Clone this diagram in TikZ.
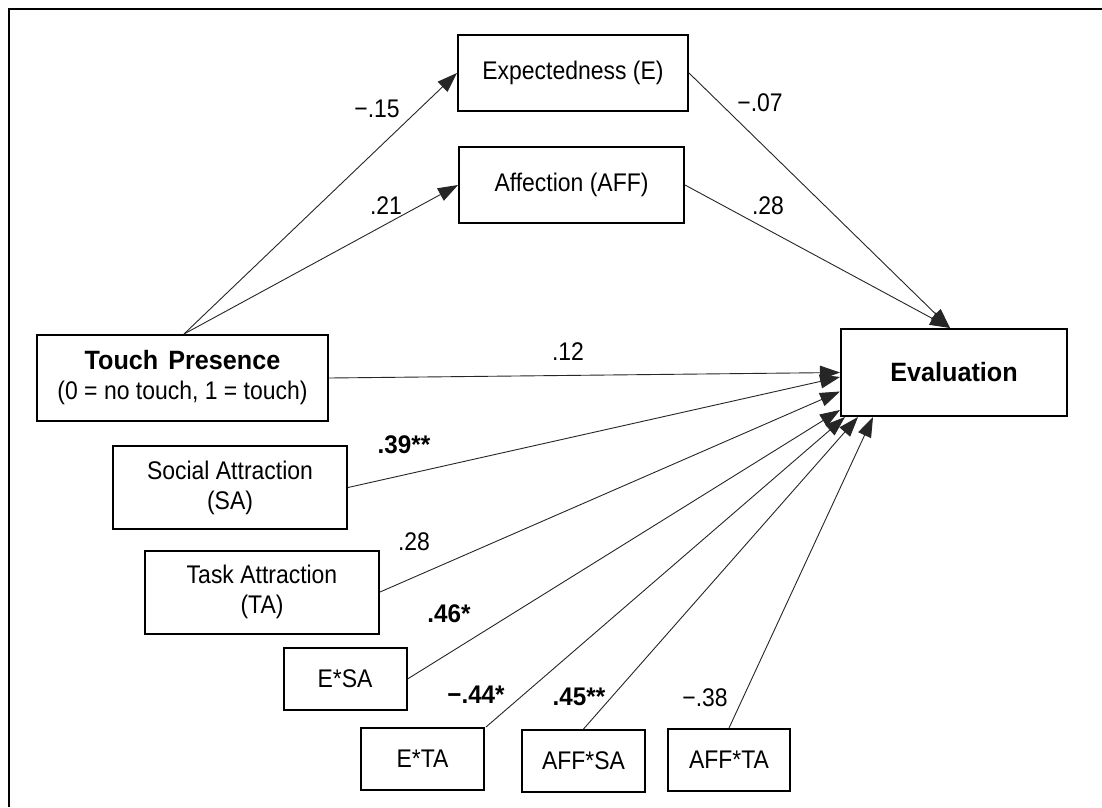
\documentclass[tikz,border=0pt]{standalone}
\usepackage{fontspec}
\setmainfont{Liberation Sans}
\newfontfamily\narrowsans[FakeStretch=0.9]{Liberation Sans}
\newfontfamily\narrowbold[FakeStretch=0.95]{Liberation Sans Bold}
\usetikzlibrary{arrows.meta,calc}

\begin{document}
\begin{tikzpicture}[x=1pt,y=-1pt,
  box/.style={draw, line width=2pt, inner sep=0pt, align=center,
    font=\narrowsans\fontsize{25.5}{30}\selectfont},
  link/.style={draw=black!85, line width=0.9pt,
    -{Triangle[length=20pt,width=14pt]}},
  lab/.style={inner sep=0pt, font=\narrowsans\fontsize{25.5}{28}\selectfont},
  blab/.style={inner sep=0pt, font=\narrowbold\fontsize{25.5}{28}\selectfont}]

\useasboundingbox (0,0) rectangle (1102,807);
\fill[white] (0,0) rectangle (1102,807);

% outer frame (top and left edges)
\draw[line width=2.6pt] (9,807) -- (9,9) -- (1102,9);

% variables
\node[box, minimum width=230, minimum height=76] (e)   at (573,73)    {Expectedness (E)};
\node[box, minimum width=225, minimum height=76] (aff) at (571.5,185) {Affection (AFF)};
\node[box, minimum width=291, minimum height=86] (tp)  at (182.5,378)
  {{\narrowbold\fontsize{26.5}{30}\selectfont Touch\hspace{10pt}Presence}\\(0 = no touch, 1 = touch)};
\node[box, minimum width=226, minimum height=87] (ev)  at (954,372.5)
  {\narrowbold\fontsize{26.5}{30}\selectfont Evaluation};
\node[box, minimum width=234, minimum height=83] (sa)  at (230,487.5) {Social Attraction\\(SA)};
\node[box, minimum width=234, minimum height=83] (ta)  at (262,592)   {Task Attraction\\(TA)};
\node[box, minimum width=123, minimum height=62] (esa)   at (345,679)   {E*SA};
\node[box, minimum width=123, minimum height=62] (eta)   at (422.5,759) {E*TA};
\node[box, minimum width=123, minimum height=62] (affsa) at (583.5,761) {AFF*SA};
\node[box, minimum width=122, minimum height=62] (affta) at (729,760)   {AFF*TA};

% connector end points
\coordinate (tpTop) at ($(tp.north)+(1.5,0)$);
\coordinate (evTop) at ($(ev.north)+(-4,0)$);
\coordinate (inSA)  at ($(ev.west)+(0,4.5)$);
\coordinate (inTA)  at ($(ev.west)+(0,19)$);
\coordinate (inESA) at ($(ev.south west)+(0,-7)$);
\coordinate (inETA) at ($(ev.south west)+(5,0)$);
\coordinate (inASA) at ($(ev.south west)+(18,0)$);
\coordinate (inATA) at ($(ev.south west)+(33,0)$);
\coordinate (outETA) at ($(eta.north east)+(1,0)$);

% paths
\draw[link] (tpTop) -- (e.west);
\draw[link] (tpTop) -- (aff.west);
\draw[link] (e.east) -- (evTop);
\draw[link] (aff.east) -- (evTop);
\draw[link] (tp.east) -- (ev.west);
\draw[link] (sa.east) -- (inSA);
\draw[link] (ta.east) -- (inTA);
\draw[link] (esa.east) -- (inESA);
\draw[link] (outETA) -- (inETA);
\draw[link] (affsa.north) -- (inASA);
\draw[link] (affta.north) -- (inATA);

% coefficients
\node[lab]  (c1)  at (377,109) {−.15};
\node[lab]  (c2)  at (386,206) {.21};
\node[lab]  (c3)  at (760,103) {−.07};
\node[lab]  (c4)  at (768,206) {.28};
\node[lab]  (c5)  at (568,352) {.12};
\node[blab] (c6)  at (404,445) {.39**};
\node[lab]  (c7)  at (414,542) {.28};
\node[blab] (c8)  at (449,614) {.46*};
\node[blab] (c9)  at (476,695) {−.44*};
\node[blab] (c10) at (579,697) {.45**};
\node[lab]  (c11) at (705,698) {−.38};
\end{tikzpicture}
\end{document}
